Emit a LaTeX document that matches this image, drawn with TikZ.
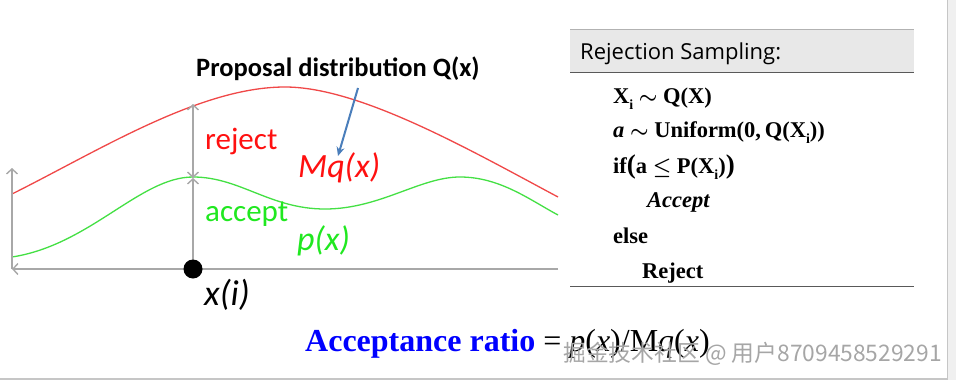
\documentclass[tikz,border=0pt]{standalone}
\usepackage{amsmath}
\usepackage{fontspec}
\setmainfont{Liberation Serif}
\newfontfamily\calibri{Carlito}
\newfontfamily\segoe{Open Sans}
\newfontfamily\cjkfont{Noto Sans CJK SC}
\usetikzlibrary{arrows.meta}
\definecolor{curvered}{HTML}{F04848}
\definecolor{curvegreen}{HTML}{44E044}
\definecolor{txtred}{HTML}{FF1010}
\definecolor{txtgreen}{HTML}{20E820}
\definecolor{axisgray}{HTML}{A8A8A8}
\definecolor{arrowblue}{HTML}{4A7EBB}
\definecolor{headgray}{HTML}{E8E8E8}
\newcommand\mysubi{\raisebox{-0.28em}{\fontsize{14}{14}\selectfont i}}
\tikzset{
  lbl/.style={inner sep=0pt, anchor=base west},
  axisline/.style={draw=axisgray, line width=1.4pt, {Straight Barb[length=5pt,width=11pt]}-{Straight Barb[length=5pt,width=11pt]}},
  axisone/.style={draw=axisgray, line width=1.4pt, -{Straight Barb[length=5pt,width=11pt]}},
  algo/.style={inner sep=0pt, anchor=base west, font=\fontsize{22.5}{26}\selectfont\bfseries},
}
\begin{document}
\begin{tikzpicture}[x=1pt,y=-1pt]
\useasboundingbox (0,0) rectangle (956,380);
\fill[white] (0,0) rectangle (956,380);
% window frame
\fill[gray!12] (947,0) rectangle (956,380);
\draw[gray!45, line width=1pt] (947,0) -- (947,380);
\draw[gray!45, line width=1.6pt] (0,379) -- (947,379);

% coordinates
\coordinate (ytop) at (12,168);
\coordinate (o) at (12,269);
\coordinate (xend) at (558,269);
\coordinate (xi) at (193,269);
\coordinate (gp) at (193,178);
\coordinate (rp) at (193,104);

% curves
\draw[curvered, line width=1.3pt] (12,194) .. controls (100,150) and (200,87) .. (285,87)
  .. controls (360,87) and (470,150) .. (558,197);
\draw[curvegreen, line width=1.3pt] (12,257) .. controls (90,245) and (140,177) .. (193,177)
  .. controls (240,177) and (270,209) .. (325,209)
  .. controls (380,209) and (420,177) .. (460,177)
  .. controls (500,177) and (530,200) .. (558,215);

% axes
\draw[axisone] (o) -- (ytop);
\draw[axisone] (xend) -- (o);
\draw[axisline] (gp) -- (rp);
\draw[axisline] (xi) -- (gp);
\fill[black] (xi) circle (9.5);

% labels
\node[lbl, text=txtred, font=\calibri\fontsize{31}{36}\selectfont] (rej) at (205,149) {reject};
\node[lbl, text=txtgreen, font=\calibri\fontsize{31}{36}\selectfont] (acc) at (205,221) {accept};
\node[lbl, text=txtred, font=\calibri\itshape\fontsize{34}{40}\selectfont] (mq) at (298,177) {Mq(x)};
\node[lbl, text=txtgreen, font=\calibri\itshape\fontsize{34}{40}\selectfont] (px) at (297,250) {p(x)};
\node[lbl, text=black, font=\calibri\itshape\fontsize{36}{40}\selectfont] (xlab) at (204,305) {x(i)};

\node[lbl, font=\calibri\bfseries\fontsize{26.5}{30}\selectfont] (prop) at (196,76) {Proposal distribution Q(x)};
\coordinate (ptail) at (358,88);
\coordinate (phead) at (338,156);
\draw[arrowblue, line width=2pt, -{Stealth[length=9pt,width=8pt]}] (ptail) -- (phead);

% right panel
\fill[headgray] (570,29) rectangle (914,72);
\draw[gray!60, line width=1pt] (570,29) -- (914,29);
\draw[gray!70!black, line width=1pt] (570,72) -- (914,72);
\draw[gray!70!black, line width=1pt] (570,286) -- (914,286);
\node[lbl, font=\segoe\fontsize{22}{26}\selectfont] (title) at (580,59) {Rejection Sampling:};

\node[algo] (l1) at (613,103) {X\mysubi\ $\boldsymbol{\sim}$ Q(X)};
\node[algo] (l2) at (613,137) {\textit{a} $\boldsymbol{\sim}$ Uniform(0,\,Q(X\mysubi))};
\node[algo] (l3) at (613,173) {if{\fontsize{27}{27}\selectfont(}a $\boldsymbol{\leq}$ P(X\mysubi){\fontsize{27}{27}\selectfont)}};
\node[algo, font=\fontsize{22.5}{26}\selectfont\bfseries\itshape] (l4) at (647,207) {Accept};
\node[algo] (l5) at (613,243) {else};
\node[algo] (l6) at (642,278) {Reject};

% bottom formula
\node[lbl, font=\fontsize{32}{36}\selectfont] (ratio) at (305,351)
  {\textcolor{blue}{\bfseries Acceptance ratio} = \textit{p}(\textit{x})/M\textit{q}(\textit{x})};
\node[lbl, text=gray!70, font=\cjkfont\fontsize{22.8}{26}\selectfont] (wm) at (563,361) {掘金技术社区 @ 用户8709458529291};
\end{tikzpicture}
\end{document}
